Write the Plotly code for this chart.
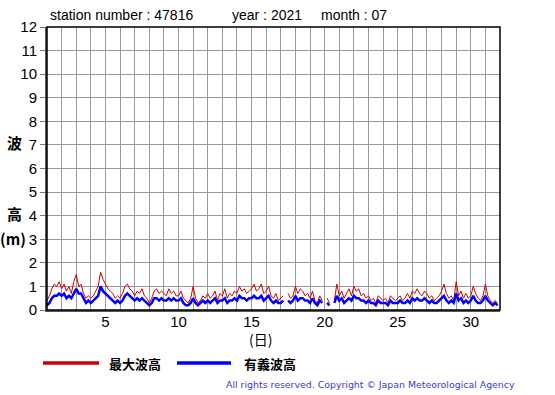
import plotly.graph_objects as go

# 6 samples per day (4-hourly), days 1..31
max_wave = [
    0.4, 0.6, 0.9, 1.1, 1.0, 1.2,
    0.9, 1.1, 0.8, 1.0, 0.7, 1.2,
    1.5, 1.0, 1.1, 0.7, 0.5, 0.6,
    0.5, 0.6, 0.8, 1.0, 1.6, 1.3,
    1.1, 0.9, 0.8, 0.7, 0.5, 0.6,
    0.5, 0.7, 1.0, 1.1, 0.9, 0.8,
    0.6, 0.8, 0.7, 0.9, 0.6, 0.5,
    0.3, 0.5, 0.8, 0.9, 0.7, 0.8,
    0.7, 0.6, 0.9, 0.7, 0.8, 0.6,
    0.6, 0.8, 0.5, 0.4, 0.3, 0.5,
    1.0, 0.5, 0.3, 0.4, 0.6, 0.5,
    0.7, 0.5, 0.6, 0.8, 0.4, 0.7,
    0.6, 0.9, 0.5, 0.7, 0.6, 0.8,
    0.7, 1.0, 0.8, 0.9, 0.7, 0.8,
    0.9, 1.1, 0.8, 0.9, 1.1, 0.7,
    0.8, 1.0, 0.6, 0.5, 0.7, 0.4,
    0.5, 0.6, None, 0.7, 0.5, 0.6,
    1.0, 0.7, 0.9, 0.8, 0.6, 0.7,
    0.5, 0.8, 0.4, 0.3, 0.6, 0.4,
    None, 0.5, 0.3, None, 0.4, 1.1,
    0.6, 0.8, 0.5, 0.7, 0.9, 0.6,
    1.0, 0.8, 0.9, 0.6, 0.7, 0.5,
    0.6, 0.4, 0.5, 0.3, 0.6, 0.5,
    0.4, 0.5, 0.3, 0.6, 0.5, 0.4,
    0.5, 0.6, 0.4, 0.5, 0.7, 0.5,
    0.8, 0.7, 0.9, 0.7, 0.6, 0.8,
    0.7, 0.5, 0.6, 0.4, 0.5, 0.6,
    0.8, 1.1, 0.7, 0.5, 0.6, 0.4,
    1.2, 0.6, 0.8, 0.5, 0.7, 0.5,
    0.6, 1.0, 0.7, 0.5, 0.4, 0.6,
    1.1, 0.6, 0.4, 0.3, 0.4, 0.3,
]
sig_wave = [
    0.2, 0.3, 0.5, 0.6, 0.6, 0.7,
    0.6, 0.7, 0.5, 0.6, 0.5, 0.7,
    0.9, 0.7, 0.7, 0.5, 0.3, 0.4,
    0.3, 0.4, 0.5, 0.6, 1.0, 0.8,
    0.7, 0.6, 0.5, 0.4, 0.3, 0.4,
    0.3, 0.4, 0.6, 0.7, 0.6, 0.5,
    0.4, 0.5, 0.4, 0.5, 0.4, 0.3,
    0.2, 0.3, 0.5, 0.5, 0.4, 0.5,
    0.4, 0.4, 0.5, 0.4, 0.5, 0.4,
    0.4, 0.5, 0.3, 0.2, 0.2, 0.3,
    0.5, 0.3, 0.2, 0.3, 0.4, 0.3,
    0.4, 0.3, 0.4, 0.5, 0.3, 0.4,
    0.4, 0.5, 0.3, 0.4, 0.4, 0.5,
    0.4, 0.6, 0.5, 0.5, 0.4, 0.5,
    0.5, 0.6, 0.5, 0.5, 0.6, 0.4,
    0.5, 0.6, 0.4, 0.3, 0.4, 0.3,
    0.3, 0.4, None, 0.4, 0.3, 0.4,
    0.6, 0.4, 0.5, 0.5, 0.4, 0.4,
    0.3, 0.5, 0.3, 0.2, 0.4, 0.3,
    None, 0.3, 0.2, None, 0.3, 0.6,
    0.4, 0.5, 0.3, 0.4, 0.5, 0.4,
    0.6, 0.5, 0.5, 0.4, 0.4, 0.3,
    0.4, 0.3, 0.3, 0.2, 0.4, 0.3,
    0.3, 0.3, 0.2, 0.4, 0.3, 0.3,
    0.3, 0.4, 0.3, 0.3, 0.4, 0.3,
    0.5, 0.4, 0.5, 0.4, 0.4, 0.5,
    0.4, 0.3, 0.4, 0.3, 0.3, 0.4,
    0.5, 0.6, 0.4, 0.3, 0.4, 0.3,
    0.7, 0.4, 0.5, 0.3, 0.4, 0.3,
    0.4, 0.6, 0.4, 0.3, 0.3, 0.4,
    0.6, 0.4, 0.3, 0.2, 0.3, 0.2,
]
days = [1 + i / 6 for i in range(len(max_wave))]

x_tick_vals = [5, 10, 15, 20, 25, 30]
y_tick_vals = list(range(0, 13))

title_parts = ["station number : 47816", "year : 2021", "month : 07"]
legend_labels = ["最大波高", "有義波高"]
copyright_text = "All rights reserved. Copyright © Japan Meteorological Agency"

RED = "#cc0000"
BLUE = "#0000ff"
FONT = "Liberation Sans, Arial, sans-serif"
CJK = "Noto Sans CJK JP, sans-serif"

fig = go.Figure()
fig.add_trace(go.Scatter(x=days, y=max_wave, mode="lines",
                         line=dict(color=RED, width=1), name=legend_labels[0],
                         showlegend=False, connectgaps=False))
fig.add_trace(go.Scatter(x=days, y=sig_wave, mode="lines",
                         line=dict(color=BLUE, width=2.5), name=legend_labels[1],
                         showlegend=False, connectgaps=False))

L, R, T, B = 47, 500, 27, 310
W, H = 555, 395
def px(xp):
    return (xp - L) / (R - L)
def py(yp):
    return (B - yp) / (B - T)

fig.update_layout(
    width=W, height=H,
    margin=dict(l=L, r=W - R, t=T, b=H - B),
    plot_bgcolor="white", paper_bgcolor="white",
    font=dict(family=FONT, color="black"),
    xaxis=dict(range=[1, 32], tickvals=x_tick_vals, ticks="",
               showgrid=True, gridcolor="#9a9a9a", gridwidth=1,
               minor=dict(dtick=1, tick0=1, showgrid=True, gridcolor="#9a9a9a", gridwidth=1),
               showline=True, linecolor="#555555", linewidth=2,
               ticklabelstandoff=-3,
               tickfont=dict(size=15, family=FONT), zeroline=False),
    yaxis=dict(range=[0, 12], tickvals=y_tick_vals, ticks="outside", ticklen=5,
               tickcolor="#777777",
               showgrid=True, gridcolor="#9a9a9a", gridwidth=1,
               showline=True, linecolor="#555555", linewidth=2,
               tickfont=dict(size=15, family=FONT), zeroline=False),
)

shapes = [
    dict(type="rect", xref="paper", yref="paper", x0=0, x1=1, y0=0, y1=1,
         line=dict(color="black", width=1.5), layer="above"),
    dict(type="line", xref="paper", yref="paper", x0=px(43), x1=px(99), y0=py(363), y1=py(363),
         line=dict(color=RED, width=3.5)),
    dict(type="line", xref="paper", yref="paper", x0=px(177), x1=px(231), y0=py(363), y1=py(363),
         line=dict(color=BLUE, width=3.5)),
]
fig.update_layout(shapes=shapes)

ann = []
title_x = [48, 230, 319]
for t, xx in zip(title_parts, title_x):
    ann.append(dict(text=t, x=px(xx), y=py(15), xref="paper", yref="paper",
                    xanchor="left", yanchor="middle", showarrow=False,
                    font=dict(size=14, family=FONT, color="black")))
ann.append(dict(text="<b>" + legend_labels[0] + "</b>", x=px(107), y=py(363), xref="paper", yref="paper",
                xanchor="left", yanchor="middle", showarrow=False,
                font=dict(size=13, family=CJK, color="black")))
ann.append(dict(text="<b>" + legend_labels[1] + "</b>", x=px(242), y=py(363), xref="paper", yref="paper",
                xanchor="left", yanchor="middle", showarrow=False,
                font=dict(size=13, family=CJK, color="black")))
ann.append(dict(text=copyright_text, x=px(517), y=py(384), xref="paper", yref="paper",
                xanchor="right", yanchor="middle", showarrow=False,
                font=dict(size=9.4, family="DejaVu Sans, Verdana, sans-serif", color="#3a3ad0")))
for txt, yy, xx in [("<b>波</b>", 142, 14), ("<b>高</b>", 213, 14), ("<b>(m)</b>", 238, 13)]:
    ann.append(dict(text=txt, x=px(xx), y=py(yy), xref="paper", yref="paper",
                    xanchor="center", yanchor="middle", showarrow=False,
                    font=dict(size=15, family=CJK, color="black")))
ann.append(dict(text="(日)", x=px(260), y=py(339), xref="paper", yref="paper",
                xanchor="center", yanchor="middle", showarrow=False,
                font=dict(size=14, family=CJK, color="black")))
fig.update_layout(annotations=ann)

fig.write_html("out.html", config={"displayModeBar": False},
               post_script="document.body.style.margin='0';")
